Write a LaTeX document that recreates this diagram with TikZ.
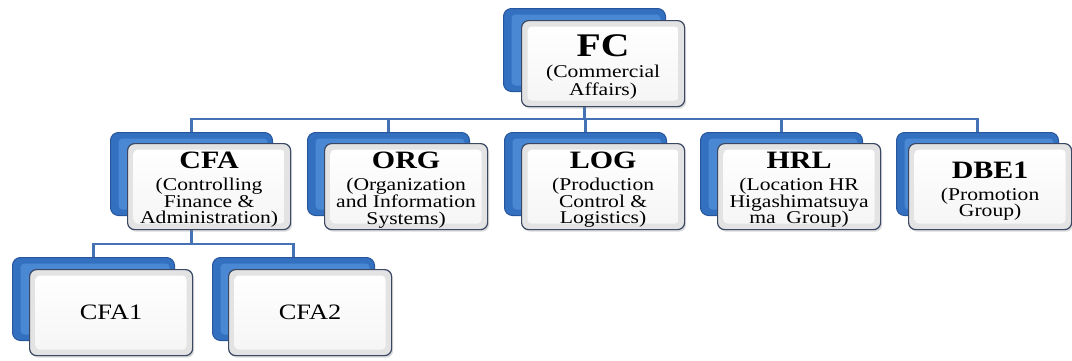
\documentclass[tikz,border=0pt]{standalone}
\usepackage{fontspec}
\setmainfont{Liberation Serif}[FakeStretch=1.2]
\usetikzlibrary{shadows}
\definecolor{conncol}{RGB}{68,114,180}
\definecolor{bluedark}{RGB}{38,86,156}
\definecolor{bluemain}{RGB}{52,112,192}
\definecolor{bluelight}{RGB}{74,136,212}
\definecolor{frontedge}{RGB}{58,72,100}
\pgfdeclarelayer{bg}
\pgfsetlayers{bg,main}
\newcommand\fctitle{\fontsize{33}{33}\selectfont\bfseries}
\newcommand\boxtitle{\fontsize{25}{25}\selectfont\bfseries}
\newcommand\boxsub{\fontsize{18}{16.5}\selectfont}
\newcommand\leaftext{\fontsize{22}{22}\selectfont}
\begin{document}
\begin{tikzpicture}[x=1pt,y=-1pt,
  backbox/.style={draw=bluedark, line width=1pt, fill=bluemain, rounded corners=8pt,
    minimum width=162pt, minimum height=83pt, anchor=north west, inner sep=0pt,
    path picture={\fill[bluelight, rounded corners=4pt]
      ([shift={(8pt,-6pt)}]path picture bounding box.north west) rectangle
      ([shift={(-5pt,6pt)}]path picture bounding box.south east);}},
  frontbox/.style={draw=frontedge, line width=1.2pt, fill=gray!22, rounded corners=7pt,
    minimum width=163pt, minimum height=86pt, anchor=north west, inner sep=0pt,
    drop shadow={shadow xshift=1.5pt, shadow yshift=-2pt, opacity=0.3},
    path picture={\shade[top color=white, bottom color=gray!8, rounded corners=4pt]
      ([shift={(6pt,-6pt)}]path picture bounding box.north west) rectangle
      ([shift={(-6pt,6pt)}]path picture bounding box.south east);}},
  boxtext/.style={align=center, inner sep=0pt, font=\boxsub},
  leaf/.style={inner sep=0pt, font=\leaftext},
  conn/.style={draw=conncol, line width=2.5pt}
]
\useasboundingbox (0,0) rectangle (1072,360);

% top
\node[backbox] (fcb) at (503,8) {};
\node[frontbox] (fcf) at (521,20) {};
\node[boxtext] (fct) at ([yshift=-3.5pt]fcf.center) {{\fctitle FC}\\[4.5pt](Commercial\\Affairs)};

% second row
\node[backbox] (cfab) at (110,132) {};
\node[frontbox] (cfaf) at (127,143) {};
\node[boxtext] (cfat) at ([yshift=-3.5pt]cfaf.center) {{\boxtitle CFA}\\[5.5pt](Controlling\\Finance \&\\Administration)};

\node[backbox] (orgb) at (307,132) {};
\node[frontbox] (orgf) at (324,143) {};
\node[boxtext] (orgt) at ([yshift=-3.5pt]orgf.center) {{\boxtitle ORG}\\[5.5pt](Organization\\and Information\\Systems)};

\node[backbox] (logb) at (504,132) {};
\node[frontbox] (logf) at (521,143) {};
\node[boxtext] (logt) at ([yshift=-3.5pt]logf.center) {{\boxtitle LOG}\\[5.5pt](Production\\Control \&\\Logistics)};

\node[backbox] (hrlb) at (700,132) {};
\node[frontbox] (hrlf) at (717,143) {};
\node[boxtext] (hrlt) at ([yshift=-3.5pt]hrlf.center) {{\boxtitle HRL}\\[5.5pt](Location HR\\Higashimatsuya\\ma~ Group)};

\node[backbox] (dbeb) at (896,132) {};
\node[frontbox] (dbef) at (908,143) {};
\node[boxtext] (dbet) at ([yshift=-4.5pt]dbef.center) {{\boxtitle DBE1}\\[5.5pt](Promotion\\Group)};

% third row
\node[backbox] (cfa1b) at (12,257) {};
\node[frontbox] (cfa1f) at (29,269) {};
\node[leaf] (cfa1t) at (cfa1f.center) {CFA1};

\node[backbox] (cfa2b) at (212,257) {};
\node[frontbox] (cfa2f) at (228,269) {};
\node[leaf] (cfa2t) at (cfa2f.center) {CFA2};

% connectors
\coordinate (bus1) at (0,119);
\coordinate (bus2) at (0,244);
\begin{pgfonlayer}{bg}
\foreach \c in {cfab,orgb,logb,hrlb,dbeb}
  \draw[conn] (fcb.center) -- (fcb.center |- bus1) -| (\c.center);
\foreach \c in {cfa1b,cfa2b}
  \draw[conn] (cfab.center) -- (cfab.center |- bus2) -| (\c.center);
\end{pgfonlayer}
\end{tikzpicture}
\end{document}
